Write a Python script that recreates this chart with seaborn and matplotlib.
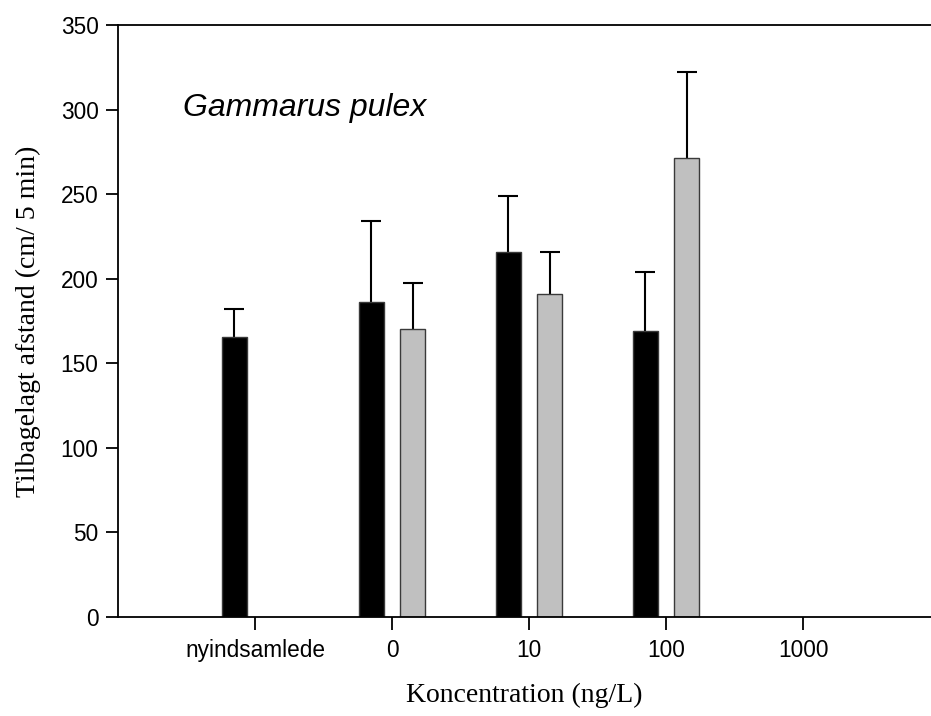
import numpy as np
import pandas as pd
import matplotlib
matplotlib.use("Agg")
import matplotlib.pyplot as plt
import seaborn as sns

# ---- data ----
categories = ["nyindsamlede", "0", "10", "100", "1000"]
series_names = ["A", "B"]
black_cats = ["nyindsamlede", "0", "10", "100"]
black_means = [165.5, 186.5, 216.0, 169.0]
black_upper = [182.0, 234.0, 249.0, 204.0]
grey_cats = ["0", "10", "100"]
grey_means = [170.0, 191.0, 271.5]
grey_upper = [197.5, 216.0, 322.0]
yticks = [0, 50, 100, 150, 200, 250, 300, 350]

rows = []
for c, m in zip(black_cats, black_means):
    rows.append({"cat": c, "series": "A", "value": m})
for c, m in zip(grey_cats, grey_means):
    rows.append({"cat": c, "series": "B", "value": m})
df = pd.DataFrame(rows)

sns.set_theme(style="white")
plt.rcParams["font.family"] = ["Liberation Sans", "DejaVu Sans"]

fig = plt.figure(figsize=(9.31, 7.16), dpi=100)
ax = fig.add_axes([118 / 931, 99 / 716, (931 - 118) / 931, (617 - 25) / 716])

sns.barplot(data=df, x="cat", y="value", hue="series", order=categories,
            hue_order=series_names, palette={"A": "black", "B": "#c0c0c0"},
            width=0.6, gap=0.38, dodge=True, errorbar=None, legend=False,
            edgecolor="#3a3a3a", linewidth=1.0, saturation=1, ax=ax)

offsets = {"A": -0.15, "B": 0.15}
for s, cats, means, ups in [("A", black_cats, black_means, black_upper),
                            ("B", grey_cats, grey_means, grey_upper)]:
    xs = [categories.index(c) + offsets[s] for c in cats]
    err = np.array(ups) - np.array(means)
    eb = ax.errorbar(xs, means, yerr=[np.zeros_like(err), err], fmt="none",
                     ecolor="black", elinewidth=1.5, capsize=7.5, capthick=1.5,
                     zorder=0.5)
    eb[1][0].set_visible(False)

ax.set_xlim(-1, 4.934)
ax.set_ylim(0, 350)
ax.set_yticks(yticks)
ax.set_yticklabels([str(t) for t in yticks])

for sp in ["top", "bottom", "left"]:
    ax.spines[sp].set_visible(True)
    ax.spines[sp].set_color("black")
    ax.spines[sp].set_linewidth(1.3)
ax.spines["right"].set_visible(False)

ax.tick_params(axis="both", which="major", direction="out", length=9,
               width=1.3, color="black", labelsize=16.3, labelcolor="black",
               bottom=True, left=True, top=False, right=False)
ax.tick_params(axis="x", pad=7)
ax.tick_params(axis="y", pad=5)

ax.set_xlabel("Koncentration (ng/L)", family=["Liberation Serif", "DejaVu Serif"],
              fontsize=20, color="black", labelpad=15)
ax.set_ylabel("Tilbagelagt afstand (cm/ 5 min)", family=["Liberation Serif", "DejaVu Serif"],
              fontsize=20, color="black", labelpad=14)

ax.text(-0.525, 296, "Gammarus pulex", fontsize=23, style="italic",
        family=["Liberation Sans", "DejaVu Sans"], color="black",
        ha="left", va="baseline")

fig.savefig("out.png", dpi=100)
